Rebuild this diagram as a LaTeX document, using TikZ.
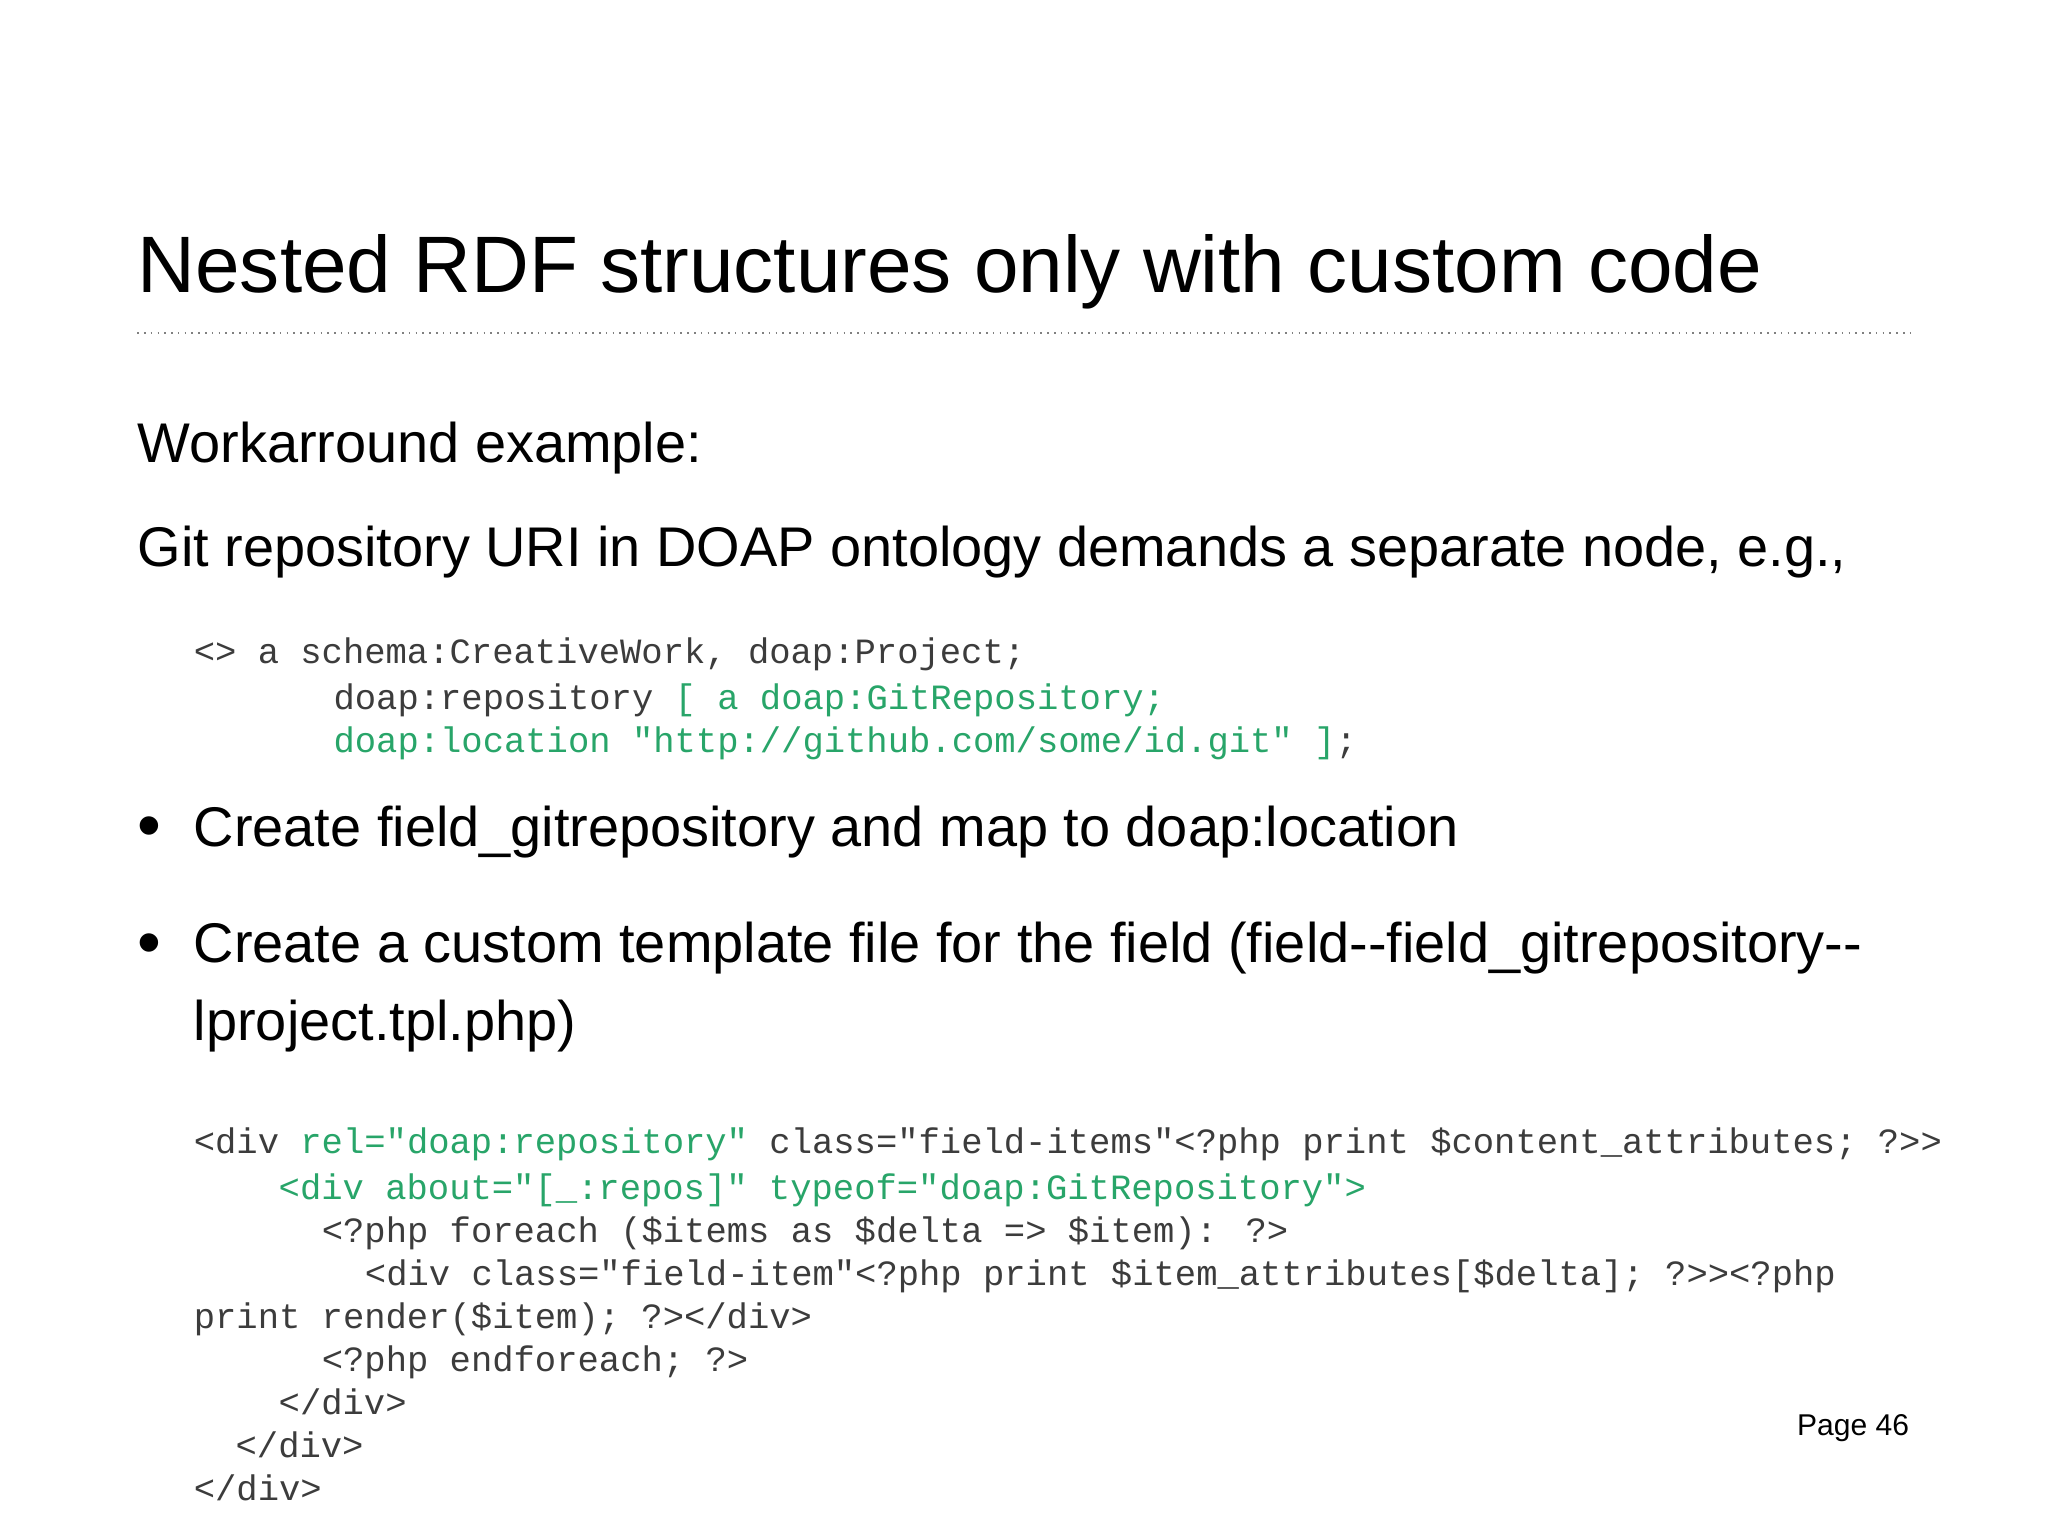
\documentclass[tikz,border=0pt]{standalone}
\usepackage{fontspec}
\setmainfont{Liberation Sans}
\newfontfamily\codefont{Liberation Mono}
\definecolor{codegreen}{RGB}{40,165,105}
\definecolor{codegray}{RGB}{60,60,60}
\begin{document}
\begin{tikzpicture}[x=0.5pt,y=-0.5pt,
  txt/.style={anchor=base west,inner sep=0pt,font=\fontsize{21.4}{25}\selectfont},
  code/.style={anchor=base west,inner sep=0pt,text=codegray,font=\codefont\fontsize{13.6}{16}\selectfont}]
\fill[white] (0,0) rectangle (1568,1176);
\useasboundingbox (0,0) rectangle (1568,1176);
\node[txt,font=\fontsize{30.65}{36}\selectfont] (title) at (105,224) {Nested RDF structures only with custom code};
\draw[dotted,gray,line width=0.6pt] (105,255) coordinate (l1) -- (1463,255) coordinate (l2);
\node[txt] (w) at (105,354) {Workarround example:};
\node[txt] (g) at (105,434) {Git repository URI in DOAP ontology demands a separate node, e.g.,};
\node[code] (c1) at (148,508) {<> a schema:CreativeWork, doap:Project;};
\node[code] (c2) at (255,543) {doap:repository \textcolor{codegreen}{[ a doap:GitRepository;}};
\node[code] (c3) at (255,576) {\textcolor{codegreen}{doap:location "http://github.com/some/id.git" ]};};
\node[txt,font=\fontsize{26}{30}\selectfont] (b1d) at (105,650) {•};
\node[txt] (b1) at (148,648) {Create field\_gitrepository and map to doap:location};
\node[txt,font=\fontsize{26}{30}\selectfont] (b2d) at (105,739) {•};
\node[txt] (b2) at (148,737) {Create a custom template file for the field (field-{}-field\_gitrepository-{}-};
\node[txt] (b2b) at (148,797) {lproject.tpl.php)};
\node[code] (d1) at (148,883) {<div \textcolor{codegreen}{rel="doap:repository"} class="field-items"<?php print \$content\_attributes; ?>>};
\node[code] (d2) at (213,918) {\textcolor{codegreen}{<div about="[\_:repos]" typeof="doap:GitRepository">}};
\node[code] (d3) at (246,951) {<?php foreach (\$items as \$delta => \$item): ?>};
\node[code] (d4) at (279,984) {<div class="field-item"<?php print \$item\_attributes[\$delta]; ?>><?php};
\node[code] (d5) at (148,1017) {print render(\$item); ?></div>};
\node[code] (d6) at (246,1050) {<?php endforeach; ?>};
\node[code] (d7) at (213,1083) {</div>};
\node[code] (d8) at (180,1116) {</div>};
\node[code] (d9) at (148,1149) {</div>};
\node[anchor=base east,inner sep=0pt,font=\fontsize{11.5}{14}\selectfont] (page) at (1462,1099) {Page 46};
\end{tikzpicture}
\end{document}
